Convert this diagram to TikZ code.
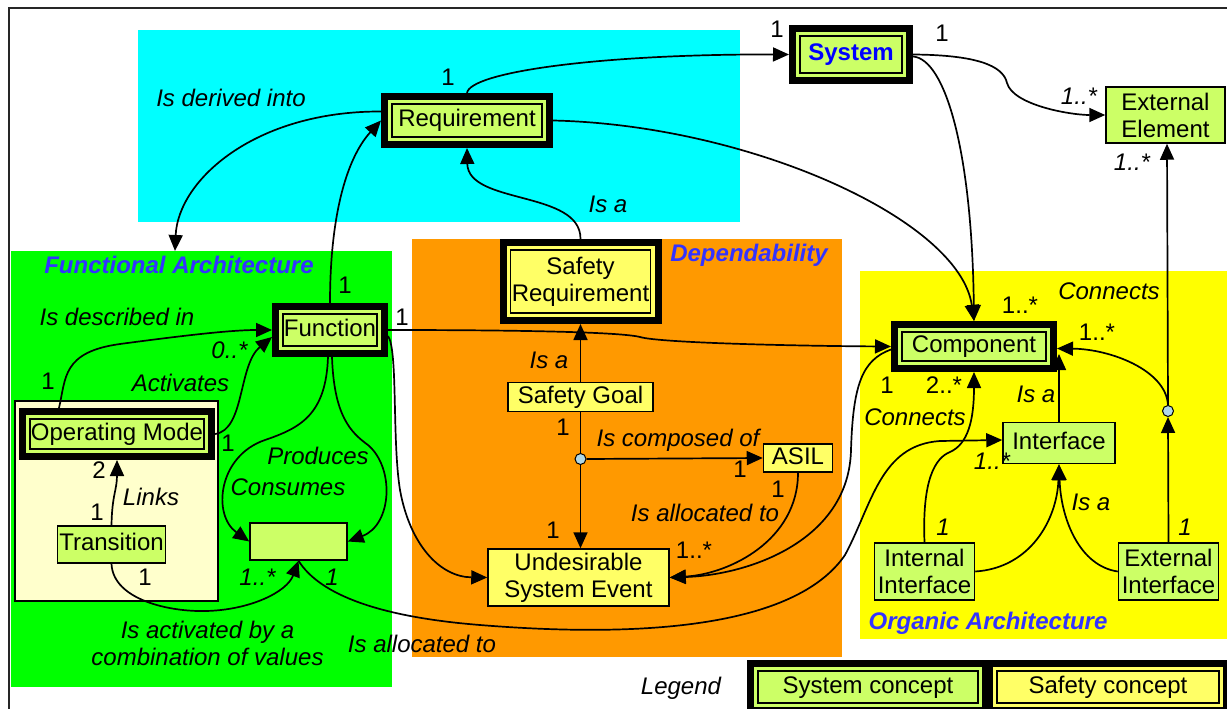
\documentclass[tikz,border=0pt]{standalone}
\usepackage{fontspec}
\setmainfont{Liberation Sans}
\usetikzlibrary{arrows.meta,calc}
\newcommand\dfont{\fontsize{24pt}{27pt}\selectfont}
\definecolor{lgreen}{RGB}{204,255,102}
\definecolor{lyellow}{RGB}{255,255,102}
\definecolor{regcyan}{RGB}{0,255,255}
\definecolor{reggreen}{RGB}{0,255,0}
\definecolor{regorange}{RGB}{255,153,0}
\definecolor{regyellow}{RGB}{255,255,0}
\definecolor{regpale}{RGB}{255,255,204}
\definecolor{jblue}{RGB}{176,216,230}
\definecolor{titleblue}{RGB}{51,51,255}
\definecolor{sysblue}{RGB}{0,0,255}
\begin{document}
\begin{tikzpicture}[x=1pt,y=-1pt,
 dframe/.style={fill=#1, draw=black, line width=1.5pt, outer sep=11pt, inner sep=0pt,
   preaction={draw=black,line width=22pt}, preaction={draw=#1,line width=8pt},
   font=\dfont, align=center},
 sysc/.style={dframe=lgreen},
 safc/.style={dframe=lyellow},
 pbox/.style={draw=black, line width=1.5pt, fill=#1, inner sep=0pt, font=\dfont, align=center},
 one/.style={text height=17pt, text depth=5pt},
 lab/.style={inner sep=0pt, font=\dfont\itshape, text height=17pt, text depth=0pt},
 lab2/.style={inner sep=0pt, font=\dfont\itshape, align=center},
 num/.style={inner sep=0pt, font=\dfont, text height=17pt, text depth=0pt},
 sect/.style={inner sep=0pt, font=\dfont\bfseries\itshape, text=titleblue, text height=17pt, text depth=0pt},
 conn/.style={draw=black, line width=1.7pt, -{Triangle[length=16pt,width=14pt]}},
 plain/.style={draw=black, line width=1.7pt},
 junction/.style={circle, draw=black, line width=1pt, fill=jblue, minimum size=11pt, inner sep=0pt},
]
\useasboundingbox (0,0) rectangle (1227,709);
\clip (0,0) rectangle (1227,709);
\fill[white] (0,0) rectangle (1227,709);
% regions
\fill[regcyan] (138,30) rectangle (740,222);
\fill[reggreen] (11,251) rectangle (392,687);
\fill[regorange] (412,239) rectangle (842,657);
\fill[regyellow] (860,271) rectangle (1227,639);
\filldraw[fill=regpale, draw=black, line width=1.5pt] (15,401) rectangle (218,601);
\draw[black!85, line width=1.8pt] (9,8) rectangle (1240,720);

% framed nodes
\node[sysc, one, minimum width=102pt, minimum height=37pt, font=\dfont\bfseries, text=sysblue] (system) at (851,54.5) {System};
\node[sysc, one, minimum width=150pt, minimum height=33pt] (req) at (467,120.5) {Requirement};
\node[sysc, one, minimum width=94pt, minimum height=32pt] (func) at (330,330) {Function};
\node[sysc, one, minimum width=174pt, minimum height=30pt] (opm) at (117,434) {Operating Mode};
\node[sysc, one, minimum width=144pt, minimum height=29pt] (comp) at (974,346.5) {Component};
\node[safc, minimum width=140pt, minimum height=63pt] (sreq) at (580.5,281.5) {Safety\\Requirement};
\node[sysc, one, minimum width=220pt, minimum height=32pt] (legsys) at (868,687) {System concept};
\node[safc, one, minimum width=222pt, minimum height=32pt] (legsaf) at (1108,687) {Safety concept};

% plain nodes
\node[pbox=lgreen, minimum width=119pt, minimum height=56pt] (extel) at (1165.5,115) {External\\Element};
\node[pbox=lyellow, one, minimum width=145pt, minimum height=29pt] (sgoal) at (580.5,397) {Safety Goal};
\node[pbox=lyellow, one, minimum width=69pt, minimum height=28pt] (asil) at (798,458) {ASIL};
\node[pbox=lyellow, minimum width=181pt, minimum height=57pt] (use) at (578.5,577.5) {Undesirable\\System Event};
\node[pbox=lgreen, one, minimum width=108pt, minimum height=37pt] (trans) at (111.5,544.5) {Transition};
\node[pbox=lgreen, minimum width=97pt, minimum height=37pt] (data) at (298.5,541.5) {};
\node[pbox=lgreen, one, minimum width=112pt, minimum height=41pt] (iface) at (1059,443) {Interface};
\node[pbox=lgreen, minimum width=100pt, minimum height=57pt] (intif) at (924.5,571.5) {Internal\\Interface};
\node[pbox=lgreen, minimum width=100pt, minimum height=57pt] (extif) at (1168.5,571.5) {External\\Interface};

\node[junction] (j1) at (580.5,459) {};
\node[junction] (j2) at (1168,411) {};
\coordinate (fa) at (175,251);

% connectors
\draw[conn] (req.north) .. controls (470,72) and (600,54) .. (system.west);
\draw[conn] ([yshift=9pt]req.west) .. controls (255,111) and (178,180) .. (fa);
\draw[conn] (func.north) .. controls (330,220) and (345,160) .. (req.west);
\draw[conn] (sreq.north) .. controls (581,190) and (468,205) .. (req.south);
\draw[conn] (req.east) .. controls (750,125) and (960,220) .. (comp.north);
\draw[conn] ([yshift=-2pt]system.east) .. controls (945,59) and (972,150) .. (comp.north);
\draw[conn] (system.east) .. controls (975,55) and (1003,65) .. (1007,83) .. controls (1013,105) and (1070,115) .. (extel.west);
\draw[conn] (extif.north) -- (j2.south);
\draw[conn] (j2.north) -- ([xshift=1.5pt]extel.south);
\draw[conn] (j2.north) .. controls (1166,370) and (1110,349) .. ([yshift=-2pt]comp.east);
\draw[conn] (func.east) .. controls (520,330) and (620,332) .. (640,337) .. controls (660,343) and (800,346) .. (comp.west);
\draw[conn] ([yshift=-6pt]func.east) .. controls (398,350) and (392,440) .. (400,490) .. controls (410,545) and (440,577) .. (use.west);
\draw[conn] ([xshift=-2pt]func.south) .. controls (326,415) and (300,428) .. (265,440) .. controls (218,456) and (212,515) .. (data.west);
\draw[conn] ([xshift=2pt]func.south) .. controls (334,415) and (350,432) .. (368,445) .. controls (395,468) and (392,525) .. (data.east);
\draw[conn] ([xshift=40pt]opm.north west) .. controls (66,378) and (62,352) .. (120,344) .. controls (180,336) and (230,330) .. (func.west);
\draw[conn] (opm.east) .. controls (245,430) and (238,365) .. ([yshift=-7pt]func.west);
\draw[conn] (trans.north) .. controls (112,495) and (117,490) .. (opm.south);
\draw[conn] (trans.south) .. controls (113,600) and (170,612) .. (206,611) .. controls (250,610) and (287,592) .. (data.south);
\draw[conn] (data.south) .. controls (320,595) and (380,617) .. (480,625) .. controls (640,638) and (795,628) .. (845,555) .. controls (872,505) and (880,445) .. (940,441) -- ([yshift=3pt]iface.west);
\draw[conn] ([yshift=-3pt]comp.west) .. controls (862,360) and (853,385) .. (851,450) .. controls (849,540) and (750,575) .. (use.east);
\draw[conn] (asil.south) .. controls (798,540) and (730,574) .. (use.east);
\draw[conn] (sgoal.north) -- (sreq.south);
\draw[plain] (sgoal.south) -- (j1.north);
\draw[conn] (j1.east) -- (asil.west);
\draw[conn] (j1.south) -- (j1.south |- use.north);
\draw[conn] (intif.north) .. controls (922,480) and (935,458) .. (950,452) .. controls (968,444) and (974,420) .. (comp.south);
\draw[conn] (intif.east) .. controls (1030,568) and (1057,520) .. (iface.south);
\draw[conn] (extif.west) .. controls (1080,566) and (1061,520) .. (iface.south);
\draw[conn] (iface.north) -- ($(iface.north |- comp.south east)+(0,-18)$);

% labels
\node[lab] (l1) at (231,98) {Is derived into};
\node[num] (m1) at (448,77) {1};
\node[num] (m2) at (777,29) {1};
\node[num] (m3) at (942,33) {1};
\node[lab] (m4) at (1079,96) {1..*};
\node[lab] (m5) at (1132,162) {1..*};
\node[lab] (l2) at (608,204) {Is a};
\node[sect] (t1) at (749,253) {Dependability};
\node[sect] (t2) at (179,265) {Functional Architecture};
\node[num] (m6) at (345,285) {1};
\node[num] (m7) at (402,317) {1};
\node[lab] (l3) at (117,317) {Is described in};
\node[lab] (m8) at (229.5,350) {0..*};
\node[num] (m9) at (48,381) {1};
\node[lab] (l4) at (180.5,383) {Activates};
\node[num] (m10) at (228,443) {1};
\node[lab] (l5) at (318,456) {Produces};
\node[lab] (l6) at (288,487) {Consumes};
\node[num] (m11) at (99,470) {2};
\node[lab] (l7) at (151,497) {Links};
\node[num] (m12) at (97,512) {1};
\node[num] (m13) at (145,577) {1};
\node[lab] (m14) at (257.5,577) {1..*};
\node[lab] (m15) at (332,577) {1};
\node[lab2] (l8) at (207.5,643) {Is activated by a\\combination of values};
\node[lab] (l9) at (422,644) {Is allocated to};
\node[lab] (l10) at (549,360) {Is a};
\node[num] (m16) at (563,427) {1};
\node[lab] (l11) at (678,438) {Is composed of};
\node[num] (m17) at (740,469) {1};
\node[num] (m18) at (778,489) {1};
\node[lab] (l12) at (705,513) {Is allocated to};
\node[num] (m19) at (553,530) {1};
\node[num] (m20) at (694,550) {1..*};
\node[num] (m21) at (1020,305) {1..*};
\node[lab] (l13) at (1109,291) {Connects};
\node[num] (m22) at (1097,332) {1..*};
\node[num] (m23) at (887,385) {1};
\node[num] (m24) at (944,385) {2..*};
\node[lab] (l14) at (1036,394) {Is a};
\node[lab] (l15) at (915,417) {Connects};
\node[lab] (m25) at (992,461) {1..*};
\node[lab] (l16) at (1091,502) {Is a};
\node[lab] (m26) at (943,527) {1};
\node[lab] (m27) at (1185,527) {1};
\node[sect] (t3) at (988,621) {Organic Architecture};
\node[lab] (l17) at (681,686) {Legend};
\end{tikzpicture}
\end{document}
